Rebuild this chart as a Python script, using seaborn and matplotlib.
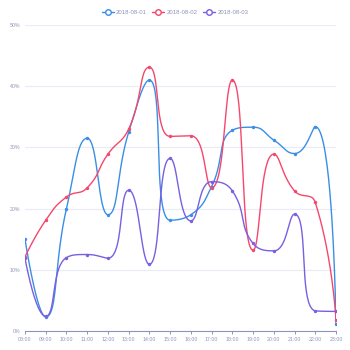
import numpy as np
import pandas as pd
import seaborn as sns
import matplotlib
matplotlib.use("Agg")
import matplotlib.pyplot as plt
from matplotlib.lines import Line2D
from matplotlib.ticker import FuncFormatter

hours = ["08:00", "09:00", "10:00", "11:00", "12:00", "13:00", "14:00", "15:00",
         "16:00", "17:00", "18:00", "19:00", "20:00", "21:00", "22:00", "23:00"]
series_names = ["2018-08-01", "2018-08-02", "2018-08-03"]
day1 = [15.0, 2.3, 20.0, 31.5, 19.0, 32.5, 41.0, 18.1, 19.0, 23.6, 32.8, 33.3, 31.2, 29.0, 33.4, 1.1]
day2 = [12.1, 18.1, 21.9, 23.4, 28.9, 33.0, 43.1, 31.8, 31.9, 23.4, 41.0, 13.2, 28.9, 22.9, 21.0, 1.8]
day3 = [11.9, 2.4, 12.0, 12.5, 11.9, 23.0, 10.9, 28.2, 18.0, 24.4, 22.9, 14.3, 13.1, 19.1, 3.3, 3.2]
colors = ["#3a8ee6", "#f5476e", "#7a5fe0"]
y_ticks = [0, 10, 20, 30, 40, 50]

axis_color = "#8e94bb"
grid_color = "#e9ebf7"

sns.set_theme(style="white")
plt.rcParams["font.family"] = ["Liberation Sans", "DejaVu Sans"]

fig = plt.figure(figsize=(3.5, 3.5), dpi=100)
ax = fig.add_axes([25 / 350, 19 / 350, 311 / 350, 306 / 350])

# pixel scale used for the bezier smoothing (keeps the curve shape aspect-aware)
sx, sy = 311 / 15, 306 / 50


def smooth_curve(xs, ys, smooth=0.5, n=40):
    """Bezier smoothing with control points constrained to each segment's box."""
    px = np.asarray(xs, float) * sx
    py = np.asarray(ys, float) * sy
    m = len(px)
    cp_in = [(px[i], py[i]) for i in range(m)]
    cp_out = [(px[i], py[i]) for i in range(m)]
    for i in range(1, m - 1):
        x, y = px[i], py[i]
        x0, y0 = px[i - 1], py[i - 1]
        x1, y1 = px[i + 1], py[i + 1]
        vx, vy = x1 - x0, y1 - y0
        len_prev = np.hypot(x - x0, y - y0)
        len_next = np.hypot(x1 - x, y1 - y)
        ratio = len_next / (len_next + len_prev)
        ncx = x + vx * smooth * ratio
        ncy = y + vy * smooth * ratio
        ncx = max(min(ncx, max(x1, x)), min(x1, x))
        ncy = max(min(ncy, max(y1, y)), min(y1, y))
        vx, vy = ncx - x, ncy - y
        pcx = x - vx * len_prev / len_next
        pcy = y - vy * len_prev / len_next
        pcx = max(min(pcx, max(x0, x)), min(x0, x))
        pcy = max(min(pcy, max(y0, y)), min(y0, y))
        vx, vy = x - pcx, y - pcy
        ncx = x + vx * len_next / len_prev
        ncy = y + vy * len_next / len_prev
        cp_in[i] = (pcx, pcy)
        cp_out[i] = (ncx, ncy)
    t = np.linspace(0, 1, n)[:, None]
    segs = []
    for i in range(m - 1):
        p0 = np.array([px[i], py[i]])
        p1 = np.array(cp_out[i])
        p2 = np.array(cp_in[i + 1])
        p3 = np.array([px[i + 1], py[i + 1]])
        seg = ((1 - t) ** 3) * p0 + 3 * ((1 - t) ** 2) * t * p1 + 3 * (1 - t) * t ** 2 * p2 + t ** 3 * p3
        segs.append(seg if i == 0 else seg[1:])
    c = np.vstack(segs)
    return c[:, 0] / sx, c[:, 1] / sy


xs = np.arange(len(hours))
for name, vals, col in zip(series_names, [day1, day2, day3], colors):
    cx, cy = smooth_curve(xs, vals)
    curve = pd.DataFrame({"x": cx, "y": cy})
    sns.lineplot(data=curve, x="x", y="y", sort=False, color=col, linewidth=1.0, ax=ax)
    pts = pd.DataFrame({"x": xs, "y": vals})
    sns.scatterplot(data=pts, x="x", y="y", color=col, s=6, edgecolor=col, linewidth=0, ax=ax, zorder=5)

ax.set_xlim(0, len(hours) - 1)
ax.set_ylim(0, 50)
ax.set_yticks(y_ticks)
ax.yaxis.set_major_formatter(FuncFormatter(lambda v, p: f"{int(v)}%"))
ax.set_xticks(xs)
ax.set_xticklabels(hours)
ax.set_xlabel("")
ax.set_ylabel("")

ax.grid(axis="y", color=grid_color, linewidth=0.8)
ax.grid(axis="x", visible=False)
ax.set_axisbelow(True)
for side in ["top", "right", "left"]:
    ax.spines[side].set_visible(False)
ax.spines["bottom"].set_color(axis_color)
ax.spines["bottom"].set_linewidth(0.8)
ax.tick_params(axis="x", colors=axis_color, labelsize=3.8, length=2.5, width=0.7, pad=1.5,
               direction="out", bottom=True)
ax.tick_params(axis="y", colors=axis_color, labelsize=3.8, length=0, pad=3.5)

handles = [Line2D([0], [0], color=c, linewidth=1.0, marker="o", markersize=4.0,
                  markerfacecolor="white", markeredgecolor=c, markeredgewidth=1.0)
           for c in colors]
fig.legend(handles, series_names, loc="center", bbox_to_anchor=(0.5, 1 - 12.5 / 350),
           ncol=3, frameon=False, fontsize=4.3, handlelength=2.0, handletextpad=0.4,
           columnspacing=0.9, labelcolor=axis_color, borderpad=0)

fig.savefig("out.png", dpi=100, facecolor="white")
